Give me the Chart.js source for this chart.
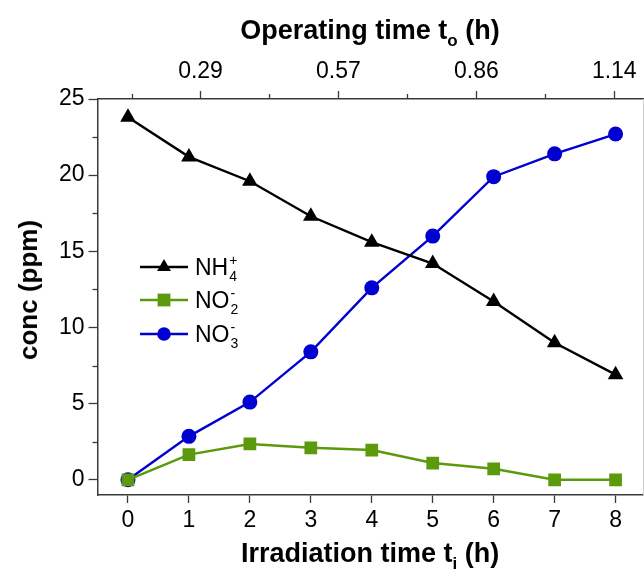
<!DOCTYPE html>
<html lang="en">
<head>
<meta charset="UTF-8">
<title>conc vs time</title>
<script src="https://cdn.jsdelivr.net/npm/chart.js"></script>
<style>
  html, body { margin: 0; padding: 0; background: #fff; }
  .wrap { position: relative; width: 644px; height: 579px; font-family: "Liberation Sans", Arial, sans-serif; }
  .wrap canvas { position: absolute; left: 0; top: 0; }
  .ttl { position: absolute; font-weight: bold; font-size: 27px; color: #000; white-space: nowrap; line-height: 1; }
  .ttl sub { font-size: 17px; vertical-align: -7px; line-height: 0; }
  #tTop { left: 370px; top: 30px; transform: translate(-50%, -50%); }
  #tBottom { left: 370px; top: 553px; transform: translate(-50%, -50%); }
  #tLeft { left: 28px; top: 290px; transform: translate(-50%, -50%) rotate(-90deg); font-size: 26px; }
</style>
</head>
<body>
<div class="wrap">
  <canvas id="chart" width="644" height="579"></canvas>
  <div class="ttl" id="tTop">Operating time t<sub>o</sub> (h)</div>
  <div class="ttl" id="tBottom">Irradiation time t<sub>i</sub> (h)</div>
  <div class="ttl" id="tLeft">conc (ppm)</div>
</div>

<script>
// irradiation time (h)
const hours = [0, 1, 2, 3, 4, 5, 6, 7, 8];
// concentrations (ppm)
const nh4 = [23.8, 21.2, 19.6, 17.3, 15.6, 14.2, 11.7, 9.0, 6.9];
const no2 = [0, 1.65, 2.35, 2.1, 1.95, 1.1, 0.72, 0, 0];
const no3 = [0, 2.85, 5.1, 8.4, 12.6, 16.0, 19.9, 21.4, 22.7];

const yTicks = [0, 5, 10, 15, 20, 25];
const yMinor = [2.5, 7.5, 12.5, 17.5, 22.5];
// operating time axis (top)
const topTicks = [2 / 7, 4 / 7, 6 / 7, 8 / 7];
const topLabels = ['0.29', '0.57', '0.86', '1.14'];
const topMinor = [1 / 7, 3 / 7, 5 / 7, 7 / 7];

const BLACK = '#000000';
const GREEN = '#5b9a0c';
const BLUE = '#0000d0';
const AXIS = '#3a3a3a';

const pts = vals => hours.map((h, i) => ({ x: h, y: vals[i] }));

const legendItems = [
    { main: 'NH', sup: '+', sub: '4', color: BLACK, shape: 'triangle' },
    { main: 'NO', sup: '-', sub: '2', color: GREEN, shape: 'rect' },
    { main: 'NO', sup: '-', sub: '3', color: BLUE, shape: 'circle' }
];

function marker(ctx, shape, x, y, r) {
    ctx.beginPath();
    if (shape === 'triangle') {
        ctx.moveTo(x, y - r);
        ctx.lineTo(x + r * 0.866, y + r * 0.5);
        ctx.lineTo(x - r * 0.866, y + r * 0.5);
        ctx.closePath();
    } else if (shape === 'rect') {
        ctx.rect(x - r * 0.8, y - r * 0.8, r * 1.6, r * 1.6);
    } else {
        ctx.arc(x, y, r * 0.85, 0, Math.PI * 2);
    }
    ctx.fill();
}

// no extra padding for overflowing tick labels
const noPad = s => { s.paddingLeft = 0; s.paddingRight = 0; s.paddingTop = 0; s.paddingBottom = 0; };

const extras = {
    id: 'extras',
    afterDraw(chart) {
        const ctx = chart.ctx;
        const { y, x2 } = chart.scales;
        ctx.save();
        ctx.strokeStyle = AXIS;
        ctx.lineWidth = 1.3;
        // minor ticks
        yMinor.forEach(v => {
            const py = Math.round(y.getPixelForValue(v)) + 0.5;
            ctx.beginPath();
            ctx.moveTo(chart.chartArea.left - 5, py);
            ctx.lineTo(chart.chartArea.left, py);
            ctx.stroke();
        });
        topMinor.forEach(v => {
            const px = Math.round(x2.getPixelForValue(v)) + 0.5;
            ctx.beginPath();
            ctx.moveTo(px, chart.chartArea.top - 5);
            ctx.lineTo(px, chart.chartArea.top);
            ctx.stroke();
        });

        // legend
        const x0 = 140, x1 = 188, rows = [267, 300, 334];
        legendItems.forEach((it, i) => {
            const ry = rows[i];
            ctx.strokeStyle = it.color;
            ctx.fillStyle = it.color;
            ctx.lineWidth = 2.4;
            ctx.beginPath();
            ctx.moveTo(x0, ry);
            ctx.lineTo(x1, ry);
            ctx.stroke();
            marker(ctx, it.shape, (x0 + x1) / 2, ry, 8);

            ctx.fillStyle = '#000';
            ctx.textBaseline = 'alphabetic';
            ctx.textAlign = 'left';
            ctx.font = '23px "Liberation Sans", Arial, sans-serif';
            ctx.fillText(it.main, 195, ry + 8);
            const w = ctx.measureText(it.main).width;
            ctx.font = '14px "Liberation Sans", Arial, sans-serif';
            ctx.fillText(it.sup, 195 + w + 1, ry - 2);
            ctx.fillText(it.sub, 195 + w + 1, ry + 14);
        });
        ctx.restore();
    }
};

const tickFont = { family: '"Liberation Sans", Arial, sans-serif', size: 23 };

new Chart(document.getElementById('chart'), {
    type: 'line',
    data: {
        datasets: [
            {
                label: 'NH4+', data: pts(nh4), borderColor: BLACK, backgroundColor: BLACK,
                pointStyle: 'triangle', pointRadius: 9, borderWidth: 2.4, pointBorderWidth: 0
            },
            {
                label: 'NO2-', data: pts(no2), borderColor: GREEN, backgroundColor: GREEN,
                pointStyle: 'rect', pointRadius: 9, borderWidth: 2.4, pointBorderWidth: 0
            },
            {
                label: 'NO3-', data: pts(no3), borderColor: BLUE, backgroundColor: BLUE,
                pointStyle: 'circle', pointRadius: 7.5, borderWidth: 2.4, pointBorderWidth: 0
            }
        ]
    },
    options: {
        responsive: false,
        animation: false,
        layout: { padding: 0, autoPadding: false },
        plugins: { legend: { display: false }, tooltip: { enabled: false } },
        scales: {
            x: {
                type: 'linear', position: 'bottom', min: -0.5, max: 8.45,
                afterBuildTicks: s => { s.ticks = hours.map(v => ({ value: v })); },
                afterFit: s => { s.height = 84; noPad(s); },
                ticks: { font: tickFont, color: '#000', padding: 4 },
                grid: { drawOnChartArea: false, tickLength: 8, tickColor: AXIS, tickWidth: 1.3 },
                border: { color: AXIS, width: 1.5 }
            },
            x2: {
                type: 'linear', position: 'top', min: 0.0723, max: 1.2024,
                afterBuildTicks: s => { s.ticks = topTicks.map(v => ({ value: v })); },
                afterFit: s => { s.height = 99; noPad(s); },
                ticks: { font: tickFont, color: '#000', padding: 6, callback: (v, i) => topLabels[i] },
                grid: { drawOnChartArea: false, tickLength: 8, tickColor: AXIS, tickWidth: 1.3 },
                border: { color: AXIS, width: 1.5 }
            },
            y: {
                type: 'linear', position: 'left', min: -1, max: 25,
                afterBuildTicks: s => { s.ticks = yTicks.map(v => ({ value: v })); },
                afterFit: s => { s.width = 97.5; noPad(s); },
                ticks: { font: tickFont, color: '#000', padding: 4 },
                grid: { drawOnChartArea: false, tickLength: 9, tickColor: AXIS, tickWidth: 1.3 },
                border: { color: AXIS, width: 1.5 }
            },
            yR: {
                type: 'linear', position: 'right', min: -1, max: 25,
                afterFit: s => { s.width = 1; noPad(s); },
                ticks: { display: false },
                grid: { display: false },
                border: { color: '#cfcfcf', width: 1 }
            }
        }
    },
    plugins: [extras]
});
</script>
</body>
</html>
